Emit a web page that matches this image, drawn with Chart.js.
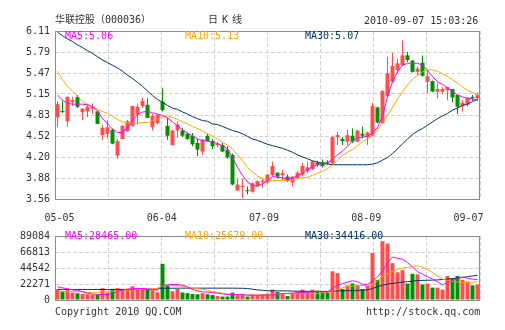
<!DOCTYPE html>
<html>
<head>
<meta charset="utf-8">
<script src="https://cdn.jsdelivr.net/npm/chart.js@4/dist/chart.umd.min.js"></script>
<style>
  body { margin: 0; background: #fff; }
  #wrap { position: relative; width: 505px; height: 330px; font-family: "DejaVu Sans Mono", "Noto Sans CJK SC", monospace; font-size: 10px; color: #333; }
  #kline { position: absolute; left: 0; top: 0; }
  #vol { position: absolute; left: 0; top: 225px; }
  .t { position: absolute; white-space: nowrap; line-height: 12px; }
</style>
</head>
<body>
<div id="wrap">
  <canvas id="kline" width="505" height="225"></canvas>
  <canvas id="vol" width="505" height="105"></canvas>
  <div class="t" style="left:55px;top:14px">华联控股（000036）</div>
  <div class="t" style="left:208px;top:14px;letter-spacing:4px">日K线</div>
  <div class="t" style="left:364px;top:15px">2010-09-07 15:03:26</div>
  <div class="t" style="left:65px;top:30px;color:#ff00ff">MA5:5.06</div>
  <div class="t" style="left:185px;top:30px;color:#ffa500">MA10:5.13</div>
  <div class="t" style="left:305px;top:30px;color:#003366">MA30:5.07</div>
  <div class="t" style="left:65px;top:230px;color:#ff00ff">MA5:28465.00</div>
  <div class="t" style="left:185px;top:230px;color:#ffa500">MA10:25679.00</div>
  <div class="t" style="left:305px;top:230px;color:#003366">MA30:34416.00</div>
  <div class="t" style="left:55px;top:306px">Copyright 2010 QQ.COM</div>
  <div class="t" style="left:366px;top:306px">http://stock.qq.com</div>
</div>
<script>
// tick labels
const dateLabels = ['05-05', '06-04', '07-09', '08-09', '09-07'];
const priceTickLabels = ['3.56', '3.88', '4.20', '4.52', '4.83', '5.15', '5.47', '5.79', '6.11'];
const volTickLabels = ['0', '22271', '44542', '66813', '89084'];

// daily candles, 85 trading days
const open = [4.80, 4.89, 4.74, 5.03, 5.11, 4.88, 4.89, 4.93, 4.89, 4.53,
  4.55, 4.61, 4.22, 4.47, 4.59, 4.67, 4.84, 4.97, 4.99, 4.65,
  4.71, 5.04, 4.67, 4.38, 4.60, 4.60, 4.55, 4.52, 4.41, 4.28,
  4.52, 4.44, 4.38, 4.38, 4.31, 4.23, 3.69, 3.74, 3.69, 3.67,
  3.75, 3.82, 3.81, 3.92, 3.96, 3.92, 3.90, 3.81, 3.88, 3.93,
  3.98, 4.01, 4.11, 4.12, 4.12, 4.10, 4.50, 4.47, 4.43, 4.52,
  4.43, 4.55, 4.50, 4.52, 4.95, 4.71, 5.12, 5.34, 5.52, 5.59,
  5.74, 5.66, 5.49, 5.63, 5.34, 5.35, 5.19, 5.19, 5.21, 5.23,
  5.14, 4.97, 4.99, 5.11, 5.09];
const high = [5.04, 5.05, 5.12, 5.11, 5.14, 4.94, 5.00, 5.01, 4.90, 4.68,
  4.76, 4.63, 4.47, 4.68, 4.76, 4.98, 5.01, 5.10, 5.09, 4.85,
  4.85, 5.24, 4.79, 4.61, 4.74, 4.64, 4.57, 4.56, 4.48, 4.47,
  4.55, 4.47, 4.43, 4.41, 4.36, 4.25, 3.87, 3.87, 3.75, 3.81,
  3.84, 3.88, 3.94, 4.13, 3.96, 4.00, 3.93, 3.90, 3.98, 4.11,
  4.13, 4.14, 4.14, 4.16, 4.15, 4.52, 4.58, 4.50, 4.61, 4.63,
  4.61, 4.66, 4.58, 5.02, 4.96, 5.21, 5.72, 5.78, 5.69, 5.97,
  5.79, 5.67, 5.57, 5.74, 5.52, 5.36, 5.32, 5.26, 5.26, 5.23,
  5.14, 5.06, 5.11, 5.14, 5.18];
const low = [4.65, 4.87, 4.66, 4.97, 4.94, 4.76, 4.80, 4.85, 4.70, 4.46,
  4.48, 4.39, 4.17, 4.47, 4.58, 4.66, 4.69, 4.94, 4.79, 4.60,
  4.69, 4.89, 4.46, 4.37, 4.49, 4.50, 4.46, 4.36, 4.21, 4.23,
  4.43, 4.32, 4.34, 4.27, 4.17, 3.77, 3.68, 3.57, 3.63, 3.66,
  3.75, 3.73, 3.79, 3.90, 3.87, 3.85, 3.82, 3.75, 3.87, 3.90,
  3.95, 4.00, 4.05, 4.04, 4.08, 4.08, 4.38, 4.38, 4.38, 4.41,
  4.43, 4.48, 4.38, 4.51, 4.71, 4.70, 5.11, 5.32, 5.47, 5.58,
  5.64, 5.48, 5.44, 5.42, 5.17, 5.18, 5.09, 5.15, 5.06, 5.03,
  4.85, 4.89, 4.96, 5.05, 5.05];
const close = [5.00, 4.88, 5.11, 5.06, 4.96, 4.93, 4.96, 4.96, 4.70, 4.64,
  4.65, 4.40, 4.44, 4.67, 4.74, 4.97, 4.96, 5.05, 4.79, 4.82,
  4.84, 4.91, 4.52, 4.60, 4.69, 4.52, 4.47, 4.39, 4.31, 4.46,
  4.44, 4.36, 4.40, 4.28, 4.19, 3.78, 3.78, 3.76, 3.68, 3.80,
  3.83, 3.84, 3.93, 4.06, 3.90, 3.95, 3.84, 3.90, 3.96, 4.06,
  4.04, 4.13, 4.08, 4.06, 4.10, 4.50, 4.53, 4.44, 4.53, 4.43,
  4.60, 4.52, 4.57, 4.97, 4.72, 5.20, 5.47, 5.58, 5.62, 5.74,
  5.67, 5.49, 5.54, 5.43, 5.42, 5.19, 5.23, 5.23, 5.26, 5.10,
  4.96, 5.02, 5.09, 5.09, 5.14];

// price moving averages as drawn
const ma5 = [5.14, 5.06, 5.01, 5.00, 5.00, 5.00, 4.99, 4.96, 4.90, 4.78,
  4.70, 4.62, 4.57, 4.57, 4.64, 4.75, 4.84, 4.88, 4.89, 4.87,
  4.85, 4.83, 4.79, 4.73, 4.67, 4.61, 4.56, 4.52, 4.47, 4.45,
  4.44, 4.42, 4.40, 4.37, 4.32, 4.19, 4.04, 3.92, 3.82, 3.76,
  3.76, 3.79, 3.84, 3.90, 3.89, 3.88, 3.87, 3.88, 3.91, 3.95,
  4.01, 4.05, 4.08, 4.10, 4.11, 4.16, 4.23, 4.29, 4.36, 4.44,
  4.49, 4.50, 4.51, 4.56, 4.65, 4.82, 5.11, 5.34, 5.49, 5.59,
  5.62, 5.62, 5.62, 5.59, 5.51, 5.42, 5.34, 5.30, 5.25, 5.19,
  5.14, 5.11, 5.09, 5.08, 5.06];
const ma10 = [5.50, 5.37, 5.27, 5.20, 5.12, 5.04, 5.00, 4.96, 4.92, 4.89,
  4.86, 4.82, 4.77, 4.73, 4.72, 4.71, 4.71, 4.72, 4.72, 4.75,
  4.78, 4.81, 4.82, 4.80, 4.77, 4.73, 4.70, 4.66, 4.63, 4.59,
  4.55, 4.52, 4.47, 4.42, 4.38, 4.32, 4.23, 4.14, 4.04, 3.97,
  3.91, 3.87, 3.85, 3.84, 3.84, 3.84, 3.84, 3.85, 3.87, 3.88,
  3.89, 3.92, 3.95, 3.98, 4.02, 4.08, 4.14, 4.22, 4.27, 4.31,
  4.37, 4.43, 4.47, 4.53, 4.61, 4.72, 4.83, 4.95, 5.08, 5.19,
  5.29, 5.38, 5.44, 5.49, 5.52, 5.52, 5.50, 5.46, 5.42, 5.37,
  5.32, 5.26, 5.21, 5.18, 5.13];
const ma30 = [6.09, 6.04, 5.99, 5.95, 5.90, 5.86, 5.81, 5.77, 5.72, 5.67,
  5.63, 5.59, 5.55, 5.50, 5.44, 5.39, 5.33, 5.27, 5.20, 5.13,
  5.07, 5.03, 4.98, 4.94, 4.92, 4.88, 4.85, 4.81, 4.78, 4.75,
  4.74, 4.70, 4.69, 4.66, 4.63, 4.60, 4.58, 4.55, 4.51, 4.47,
  4.45, 4.42, 4.39, 4.37, 4.35, 4.33, 4.30, 4.27, 4.23, 4.20,
  4.17, 4.14, 4.12, 4.10, 4.09, 4.08, 4.08, 4.08, 4.08, 4.08,
  4.08, 4.08, 4.08, 4.09, 4.11, 4.15, 4.19, 4.25, 4.32, 4.40,
  4.47, 4.54, 4.59, 4.63, 4.68, 4.73, 4.78, 4.82, 4.86, 4.91,
  4.94, 4.98, 5.00, 5.04, 5.07];

// volume and its moving averages
const volume = [14800, 12700, 14800, 10300, 9300, 8400, 8000, 7600, 7200, 16500,
  10600, 15600, 16500, 15600, 15600, 19000, 16500, 16500, 15600, 13500,
  10600, 50400, 21000, 12200, 15400, 10500, 9500, 8200, 8000, 9500,
  8000, 6900, 5600, 4800, 4800, 10200, 6700, 8700, 4800, 7800,
  7000, 8000, 9000, 14500, 11200, 9700, 5500, 9500, 11800, 14400,
  12000, 14400, 13000, 11000, 10500, 40000, 37500, 15300, 20400, 22900,
  20400, 15300, 19500, 65500, 28000, 81800, 78600, 51300, 38600, 41500,
  22900, 36400, 35600, 21600, 22900, 17300, 17300, 14400, 33500, 30000,
  33500, 28000, 25800, 20400, 21600];
const volMa5 = [18400, 17000, 15700, 14000, 13500, 11500, 9500, 8300, 7700, 7600,
  7600, 9000, 12000, 13800, 15000, 16000, 16000, 16000, 15500, 14800,
  13500, 20500, 21200, 21600, 21600, 20500, 18600, 14800, 12500, 11300,
  10800, 10400, 9600, 8400, 7600, 7600, 7600, 7200, 6800, 6700,
  6700, 6700, 6700, 7300, 8000, 8800, 9200, 9600, 10000, 10400,
  10900, 11400, 11800, 11400, 11200, 16000, 20800, 22800, 24800, 26800,
  25500, 21800, 21700, 26400, 32200, 40500, 51500, 59800, 58200, 56800,
  52000, 46000, 39500, 36000, 32600, 29300, 25500, 21000, 25000, 27000,
  29800, 31800, 30400, 29000, 28465];
const volMa10 = [11200, 11500, 11800, 11800, 11800, 11300, 10500, 10400, 10800, 11200,
  11600, 12100, 12800, 13300, 13600, 14000, 14400, 14900, 15300, 15700,
  16500, 19700, 20200, 20200, 19700, 19000, 17800, 16800, 15800, 14800,
  13600, 11600, 10500, 9600, 8600, 7700, 7300, 6900, 6700, 6800,
  7000, 7300, 7500, 7800, 8100, 8400, 8800, 8900, 8900, 8900,
  8900, 8900, 9000, 9800, 10500, 12000, 14800, 17000, 18700, 19400,
  20100, 20200, 19700, 21500, 27000, 32500, 36500, 40000, 43000, 44400,
  45400, 46500, 47800, 45500, 42300, 38600, 33300, 29500, 26800, 25600,
  25100, 24600, 24300, 24000, 25679];
const volMa30 = [14800, 14800, 14800, 14700, 14700, 14700, 14600, 14600, 14600, 14600,
  14500, 14500, 14500, 14500, 14500, 14500, 14400, 14400, 14400, 14400,
  15500, 16300, 16400, 16400, 16400, 16500, 16500, 16500, 16500, 16500,
  16500, 16500, 16500, 16500, 16500, 16500, 16400, 16300, 16000, 15000,
  14000, 13500, 12800, 12800, 12700, 12700, 12600, 12400, 12300, 12200,
  12100, 12000, 12000, 12000, 12000, 12000, 12800, 12800, 12900, 13000,
  13100, 13800, 14000, 16000, 18500, 20500, 22000, 23000, 24000, 24800,
  25500, 26200, 27000, 27300, 27500, 27700, 28000, 28500, 29000, 29800,
  30500, 31500, 32500, 33500, 34416];

const UP = '#ff4d4d', DOWN = '#009000';
const MA5C = '#ff00ff', MA10C = '#ffa500', MA30C = '#003366';
const candleColors = close.map((c, i) => c >= open[i] ? UP : DOWN);
const pts = arr => arr.map((v, i) => ({x: i, y: v}));
const font = {family: 'DejaVu Sans Mono', size: 10};

function evenTicks(scale, n) {
  const out = [];
  for (let k = 0; k <= n; k++) out.push({value: scale.min + (scale.max - scale.min) * k / n});
  scale.ticks = out;
}

const frame = {
  id: 'frame',
  afterDraw(chart) {
    const {ctx, chartArea: a} = chart;
    ctx.save();
    ctx.strokeStyle = '#8c8c8c';
    ctx.lineWidth = 1;
    ctx.strokeRect(a.left + 0.5, a.top + 0.5, a.right - a.left - 1, a.bottom - a.top);
    ctx.restore();
  }
};

function lineSet(label, arr, color) {
  return {type: 'line', label, data: pts(arr), borderColor: color, borderWidth: 1,
    pointRadius: 0, tension: 0, order: 1};
}

const gridX = {
  type: 'linear', min: -0.5, max: 84.5, offset: false,
  afterBuildTicks: s => evenTicks(s, 8),
  afterFit: s => { s.height = 0; },
  ticks: {display: false},
  grid: {color: '#d2d2d2', drawTicks: false, offset: false},
  border: {display: false, dash: [4, 2]}
};

new Chart(document.getElementById('kline'), {
  type: 'bar',
  data: {
    datasets: [
      lineSet('MA5', ma5, MA5C),
      lineSet('MA10', ma10, MA10C),
      lineSet('MA30', ma30, MA30C),
      {label: 'body', data: open.map((o, i) => ({x: i, y: [o, close[i]]})),
        backgroundColor: candleColors, barThickness: 4, minBarLength: 1,
        grouped: false, inflateAmount: 0, order: 2},
      {label: 'wick', data: low.map((l, i) => ({x: i, y: [l, high[i]]})),
        backgroundColor: candleColors, barThickness: 1,
        grouped: false, inflateAmount: 0, order: 3}
    ]
  },
  options: {
    responsive: false,
    animation: false,
    layout: {padding: {top: 31, right: 25, left: 0, bottom: 0}},
    plugins: {legend: {display: false}, tooltip: {enabled: false}},
    scales: {
      x: gridX,
      xd: {
        type: 'linear', axis: 'x', position: 'bottom', offset: false,
        min: -0.044, max: 4.1125,
        afterBuildTicks: s => { s.ticks = dateLabels.map((d, i) => ({value: i})); },
        afterFit: s => { s.height = 26; },
        ticks: {callback: (v, i) => dateLabels[i], font, color: '#333', padding: 5,
          maxRotation: 0, autoSkip: false},
        grid: {display: false},
        border: {display: false}
      },
      y: {
        min: 3.56, max: 6.11,
        afterBuildTicks: s => evenTicks(s, 8),
        afterFit: s => { s.width = 55; },
        ticks: {callback: (v, i) => priceTickLabels[i], font, color: '#333', padding: 5, autoSkip: false},
        grid: {color: '#d2d2d2', drawTicks: false},
        border: {display: false, dash: [4, 2]}
      }
    }
  },
  plugins: [frame]
});

new Chart(document.getElementById('vol'), {
  type: 'bar',
  data: {
    datasets: [
      lineSet('MA5', volMa5, MA5C),
      lineSet('MA10', volMa10, MA10C),
      lineSet('MA30', volMa30, MA30C),
      {label: 'volume', data: pts(volume), backgroundColor: candleColors,
        barThickness: 4, grouped: false, inflateAmount: 0, order: 2}
    ]
  },
  options: {
    responsive: false,
    animation: false,
    layout: {padding: {top: 5, right: 25, left: 0, bottom: 30}},
    plugins: {legend: {display: false}, tooltip: {enabled: false}},
    scales: {
      x: gridX,
      y: {
        min: 0, max: 89084,
        afterBuildTicks: s => evenTicks(s, 4),
        afterFit: s => { s.width = 55; },
        ticks: {callback: (v, i) => volTickLabels[i], font, color: '#333', padding: 5, autoSkip: false},
        grid: {color: '#d2d2d2', drawTicks: false},
        border: {display: false, dash: [4, 2]}
      }
    }
  },
  plugins: [frame]
});
</script>
</body>
</html>
